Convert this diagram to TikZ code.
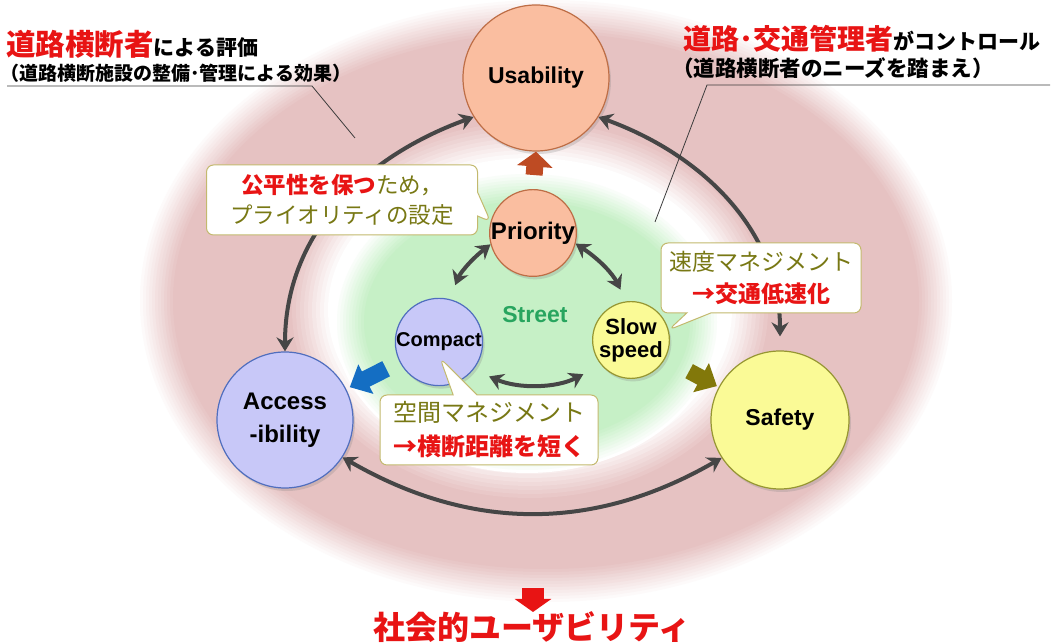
\documentclass[tikz,border=0pt]{standalone}
\usepackage{fontspec}
\setmainfont{Liberation Sans}
\newfontfamily\jp{Noto Sans CJK JP}
\usetikzlibrary{arrows.meta,shapes.callouts,shadows}
\definecolor{pinkc}{RGB}{230,194,194}
\definecolor{greenc}{RGB}{198,240,198}
\definecolor{redc}{RGB}{232,20,20}
\definecolor{olivec}{RGB}{120,120,20}
\definecolor{grayarr}{RGB}{70,70,70}
\definecolor{salmon}{RGB}{250,190,160}
\definecolor{salmonb}{RGB}{190,110,70}
\definecolor{lav}{RGB}{200,200,248}
\definecolor{lavb}{RGB}{80,110,190}
\definecolor{yel}{RGB}{250,250,150}
\definecolor{yelb}{RGB}{150,150,50}
\definecolor{calb}{RGB}{195,185,110}
\definecolor{streetc}{RGB}{40,165,95}
\definecolor{brownc}{RGB}{190,75,35}
\definecolor{bluec}{RGB}{20,110,195}
\definecolor{olivearr}{RGB}{130,120,10}
\definecolor{leadc}{RGB}{60,60,60}
\begin{document}
\begin{tikzpicture}[x=1pt,y=1pt,
  circ/.style={circle, draw, line width=1.2pt, inner sep=0pt, align=center,
    drop shadow={opacity=0.25, shadow xshift=2pt, shadow yshift=-3pt}},
  garr/.style={draw=grayarr, line width=4pt,
    {Stealth[length=14pt,width=17pt]}-{Stealth[length=14pt,width=17pt]}},
  cbox/.style={rectangle callout, draw=calb, line width=1pt, fill=white,
    rounded corners=7pt, align=center, inner sep=0pt, text=olivec,
    callout pointer width=24pt},
  lead/.style={draw=leadc, line width=0.8pt},
]
\useasboundingbox (0,0) rectangle (1061,644);
\fill[white] (0,0) rectangle (1061,644);
% outer pink area
\foreach \k in {0,...,12}{\pgfmathtruncatemacro\p{100*\k/12}
  \fill[pinkc!\p!white] (546,343) ellipse ({409-3*\k} and {304-3*\k});}
% white halo
\foreach \k in {0,...,10}{\pgfmathtruncatemacro\p{10*\k}
  \fill[white!\p!pinkc] (530,334) ellipse ({242-4*\k} and {192-4*\k});}
% green street
\foreach \k in {0,...,10}{\pgfmathtruncatemacro\p{10*\k}
  \fill[greenc!\p!white] (527,322) ellipse ({193-3*\k} and {151-3*\k});}

% circles
\node[circ, fill=salmon, draw=salmonb, minimum size=146pt,
  font=\bfseries\fontsize{23}{26}\selectfont] (usa) at (536,566) {Usability};
\node[circ, fill=salmon, draw=salmonb, minimum size=82pt,
  font=\bfseries\fontsize{24}{26}\selectfont] (pri) at (533,411) {Priority};
\node[circ, fill=lav, draw=lavb, minimum size=78pt,
  font=\bfseries\fontsize{20}{22}\selectfont] (comp) at (439,302) {Compact};
\node[circ, fill=yel, draw=yelb, minimum size=74pt,
  font=\bfseries\fontsize{22}{23}\selectfont] (slow) at (631,304) {Slow\\speed};
\node[circ, fill=lav, draw=lavb, minimum size=136pt,
  font=\bfseries\fontsize{24}{33}\selectfont] (acc) at (285,224) {Access\\-ibility};
\node[circ, fill=yel, draw=yelb, minimum size=138pt,
  font=\bfseries\fontsize{23}{26}\selectfont] (saf) at (780,224) {Safety};
\node[text=streetc, font=\bfseries\fontsize{23}{24}\selectfont] (street) at (535,329) {Street};

% gray double arrows
\draw[garr] (usa.212) to[out=200,in=90] (acc.north);
\draw[garr, shorten >=14pt] (usa.328) to[out=-20,in=90] (saf.north);
\draw[garr] (acc.-33) to[out=-30,in=210] (saf.213);
\draw[garr, shorten >=15pt] (pri.195) to[bend right=15] (comp.76);
\draw[garr, shorten >=13pt] (pri.-14) to[bend left=15] (slow.97);
\draw[garr, shorten <=17pt, shorten >=20pt] (comp.-39) to[bend right=25] (slow.220);

% block arrows
\draw[brownc, line width=17pt, -{Triangle[length=15pt,width=35pt]},
  shorten <=14pt] (pri.north) -- (usa.south);
\draw[bluec, line width=17pt, -{Triangle[length=18pt,width=32pt]},
  shorten <=15pt, shorten >=4pt] (comp) -- (acc);
\draw[olivearr, line width=16pt, -{Triangle[length=18pt,width=32pt]},
  shorten <=27pt, shorten >=2pt] (slow) -- (saf);

% callouts
\node[cbox, minimum width=271pt, minimum height=70pt,
  callout absolute pointer={(pri.165)},
  font=\jp\fontsize{22.5}{30}\selectfont] (c1) at (342,444)
  {{\color{redc}\bfseries 公平性を保つ}ため，\\プライオリティの設定};
\node[cbox, minimum width=200pt, minimum height=70pt,
  callout absolute pointer={(slow.15)},
  font=\jp\fontsize{23}{32}\selectfont] (c2) at (761,366)
  {速度マネジメント\\{\color{redc}\bfseries →交通低速化}};
\coordinate (ctip) at (440,286);
\node[cbox, minimum width=218pt, minimum height=70pt,
  callout absolute pointer={(ctip)},
  font=\jp\fontsize{24}{34}\selectfont] (c3) at (489,214)
  {空間マネジメント\\{\color{redc}\bfseries →横断距離を短く}};

% top-left annotation
\node[anchor=west, inner sep=0pt] (tl1) at (6,600)
  {\jp\bfseries{\fontsize{29.5}{30}\selectfont\color{redc}道路横断者}{\fontsize{21}{24}\selectfont による評価}};
\node[anchor=west, inner sep=0pt, font=\jp\bfseries\fontsize{19}{22}\selectfont] (tl2) at (0,571)
  {（道路横断施設の整備･管理による効果）};
\coordinate (ula) at (7,558);
\coordinate (ulb) at (312,558);
\coordinate (ulc) at (355,506);
\draw[lead] (ula) -- (ulb) -- (ulc);

% top-right annotation
\node[anchor=west, inner sep=0pt] (tr1) at (683,605)
  {\jp\bfseries{\fontsize{28}{30}\selectfont\color{redc}道路･交通管理者}{\fontsize{21}{24}\selectfont がコントロール}};
\node[anchor=west, inner sep=0pt, font=\jp\bfseries\fontsize{21.5}{24}\selectfont] (tr2) at (672,576)
  {（道路横断者のニーズを踏まえ）};
\coordinate (ura) at (1050,559);
\coordinate (urb) at (707,559);
\coordinate (urc) at (655,422);
\draw[lead] (ura) -- (urb) -- (urc);

% bottom
\coordinate (redtop) at (533,56);
\coordinate (redtip) at (533,32);
\draw[redc, line width=22pt, -{Triangle[length=13pt,width=36pt]}] (redtop) -- (redtip);
\node[text=redc, inner sep=0pt, font=\jp\bfseries\fontsize{32}{34}\selectfont] (soc) at (532,17)
  {社会的ユーザビリティ};
\end{tikzpicture}
\end{document}
